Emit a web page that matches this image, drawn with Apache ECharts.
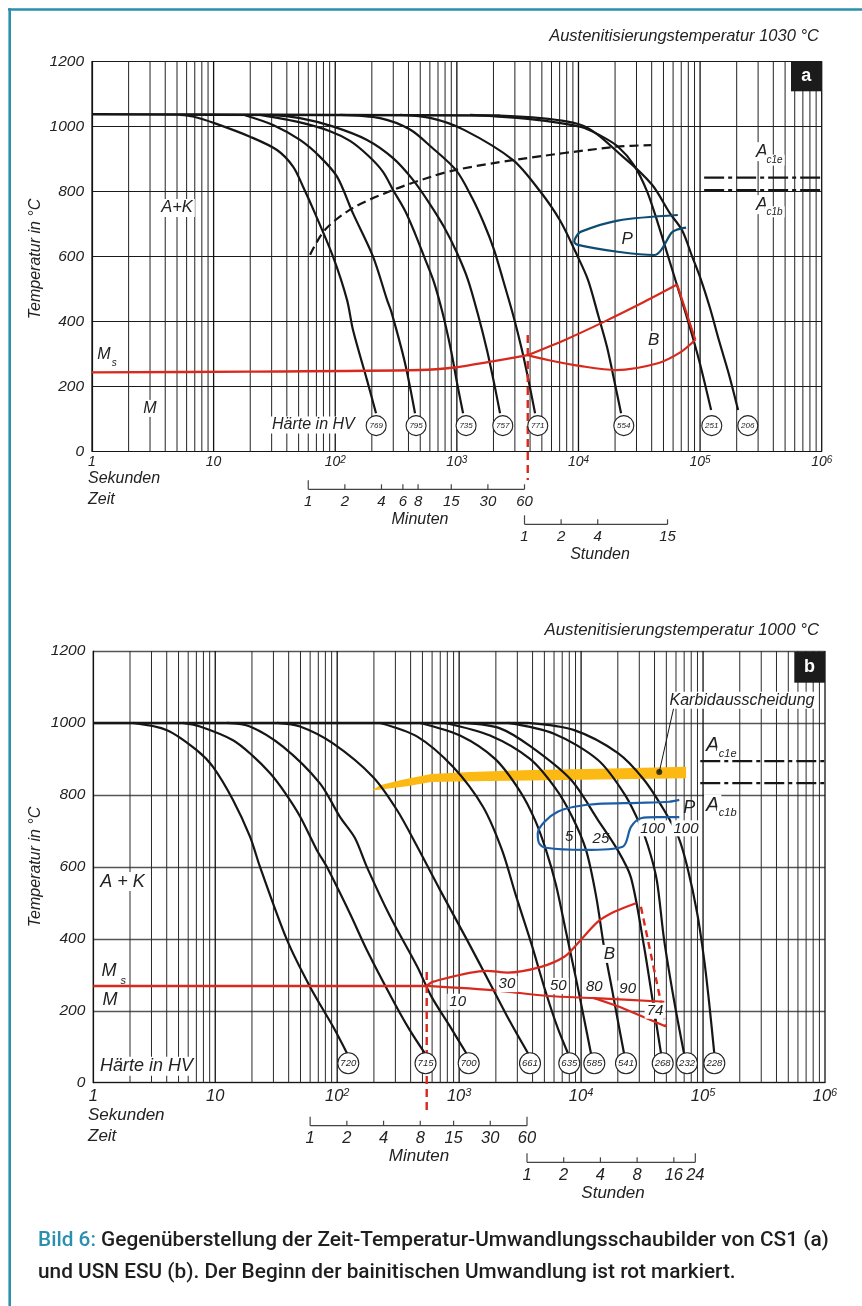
<!DOCTYPE html>
<html><head><meta charset="utf-8">
<script src="https://cdn.jsdelivr.net/npm/echarts/dist/echarts.min.js"></script>
<style>html,body{margin:0;padding:0;background:#fff}#c{width:862px;height:1306px}</style>
</head><body><div id="c"></div>
<script>
// ---------------- DATA (time in seconds, temperature in °C) ----------------
// Chart a: CS1, austenitised at 1030 °C
const topA = [[1,1037],[10,1036],[100,1035],[2266,1033]];
const a769 = [[5.29,1035],[6.77,1030],[10.27,1009],[19.93,968],[33.2,927],[45.0,876],[54.4,814],[68.2,732],[95.9,599],[125,466],[140,373],[182.6,219],[216.5,117]];
const a795 = [[18.1,1034],[30.8,1004],[51.3,958],[75.0,906],[103.5,845],[140,732],[204.6,599],[266.7,466],[291.5,425],[375,271],[453,117]];
const a735 = [[24.1,1035],[51.3,1012],[90.6,985],[132.3,955],[186.1,910],[247,860],[299,804],[375,740],[453,670],[537,600],[649,520],[770,420],[896,310],[1004,210],[1125,117]];
const a757 = [[29.1,1035],[51.3,1025],[96.5,999],[182.6,958],[299,902],[436,835],[602,760],[785,690],[1004,610],[1236,527],[1494,420],[1772,310],[2023,210],[2266,117]];
const a771 = [[109.5,1035],[233.5,1025],[412,990],[613.5,937],[985,865],[1334,780],[1674,700],[2023,620],[2399,527],[2899,420],[3438,310],[3925,210],[4397,117]];
const a554 = [[341,1035],[613.5,1025],[1146,989],[2899,896],[4834,800],[7058,710],[9557,610],[11990,527],[14490,420],[17190,320],[19630,220],[22400,117]];
const a251 = [[1284,1035],[4000,1022],[10500,998],[15050,972],[21170,937],[28660,880],[36650,800],[45140,700],[54560,600],[65940,500],[79660,400],[98110,280],[123200,127]];
const a206 = [[2266,1033],[10500,1004],[23270,906],[40300,820],[56360,733],[71120,680],[85940,600],[101900,527],[120800,440],[143300,340],[173200,235],[205400,127]];
const dashA = [[62.1,605],[82.5,682],[140,749],[299,804],[614,845],[985,866],[2884,896],[20370,937],[39500,942]];
const msA = [[1,243],[19.9,245],[498,250],[953,258],[1911,276],[3828,296]];
const bUpA = [[3828,296],[7655,342],[16340,399],[34830,460],[64700,513]];
const bRightA = [[64700,513],[91450,343]];
const bLowA = [[3828,296],[5594,281],[10500,262],[20370,250],[44900,271],[69800,306],[91450,343]];
const redVertA = [[3828,358],[3828,-88]];
const pA = [[65600,727],[21040,710],[10500,676],[9550,660],[9250,645],[9870,635],[21040,614],[42100,604],[47800,619],[57800,671],[63500,681],[76700,688]];
const ac1eA = [[108000,842],[1000000,842]];
const ac1bA = [[108000,804],[1000000,804]];
const hvA = [[217,769],[462,795],[1191,735],[2386,757],[4627,771],[23590,554],[124800,251],[246700,206]];
const minA = [1,2,4,6,8,15,30,60];
const hrA = [1,2,4,15];

// Chart b: USN ESU, austenitised at 1000 °C
const topB = [[1,1000],[3669,1000]];
const b720 = [[2.116,1000],[4.02,980],[7.085,924],[9.59,878],[13.98,786],[19.27,684],[23.28,600],[38.75,397],[59.8,267],[92.4,156],[120.3,82]];
const b715 = [[5.44,1000],[7.50,990],[13.98,952],[20.1,910],[28.2,860],[37.5,805],[49.6,740],[68.0,647],[82.2,600],[126.9,471],[174.9,369],[285.7,230],[393.9,146],[522.7,82]];
const b700 = [[12.49,1000],[19.27,990],[35.9,934],[72.2,832],[105.3,739],[139.8,680],[174.9,600],[272.6,461],[453.9,322],[591.4,240],[846.3,155],[1145,82]];
const b661 = [[32.1,1000],[49.6,990],[92.4,943],[196.6,850],[309.2,758],[453.9,656],[696.6,536],[1160,397],[1791,276],[2612,170],[3669,82]];
const b635 = [[224.4,1000],[453.9,962],[889.7,878],[1568,767],[2244,647],[2923,520],[3880,390],[5150,250],[6460,150],[7801,82]];
const b585 = [[478,1000],[1017,965],[1970,900],[3158,810],[4192,730],[5150,647],[6219,550],[7511,420],[9073,290],[10550,180],[12040,82]];
const b541 = [[765.7,1000],[1791,965],[3811,900],[6109,820],[8424,740],[10970,647],[13250,520],[15410,378],[17920,260],[20070,170],[22480,82]];
const b268 = [[1096,1000],[2163,985],[3880,934],[8264,842],[13760,730],[20070,645],[25650,570],[32780,380],[38140,240],[45200,82]];
const b232 = [[2516,1000],[5998,970],[13760,897],[22900,800],[30970,711],[36710,640],[41900,560],[47820,400],[57760,230],[69760,82]];
const b228 = [[3669,1000],[8776,980],[20070,916],[32780,842],[47820,758],[62600,684],[74210,600],[89640,470],[102300,340],[112400,220],[123600,82]];
const bandTopB = [[192.9,812],[224.4,827],[327.6,841],[588.5,858],[1228,864],[3815,869],[14300,873],[72550,878]];
const bandBotB = [[72550,846],[14300,843],[3815,840],[1228,838],[588.5,836],[373.7,824],[266.1,818],[192.9,812]];
const carbDotB = [[43750,864]];
const carbLeadB = [[43750,864],[58100,1049]];
const pB = [[63850,786],[52880,781],[29110,778],[13680,775],[8790,767],[6430,753],[4990,725],[4410,693],[4540,665],[5155,653],[10620,647],[21940,656],[25650,711],[30960,735],[42460,738],[63850,738]];
const msB = [[1,269],[542,269]];
const bUpB = [[542,269],[614,281],[1683,311],[2500,306],[4690,322],[7280,350],[9370,387],[13680,447],[18710,475],[28180,499]];
const bLowB = [[542,269],[2070,256],[5320,241],[12830,235],[48110,225]];
const bLow2B = [[12830,235],[20570,211],[49680,156]];
const redDashB = [[30960,489],[49680,156]];
const redVertB = [[542,308],[542,-90]];
const ac1eB = [[94900,894],[1000000,894]];
const ac1bB = [[94900,833],[1000000,833]];
const hvB = [[123.3,720],[530,715],[1197,700],[3810,661],[8000,635],[12830,585],[23340,541],[46680,268],[73880,232],[123700,228]];
const minB = [1,2,4,8,15,30,60];
const hrB = [1,2,4,8,16,24];

// ---------------- LAYOUT / STYLE ----------------
const FAM = '"Liberation Sans", Arial, Helvetica, sans-serif';
const fnt = (s, w) => (w || 'italic') + ' ' + s + 'px ' + FAM;
const INK = '#161616', TXT = '#222', RED = '#d8291c';
const HV_ROW = [79, 54];

const gridVals = [], gridMajor = [];
for (let k = 0; k < 6; k++) for (let m = 1; m <= 9; m++) { gridVals.push(m * Math.pow(10, k)); gridMajor.push(m === 1); }
gridVals.push(1e6); gridMajor.push(true);

function xFmt(v) { const e = Math.round(Math.log10(v)); return e === 0 ? '1' : e === 1 ? '10' : '10{s|' + e + '}'; }
function xAx(gi, fs, margin) {
  return { type: 'log', logBase: 10, gridIndex: gi, min: 1, max: 1e6,
    axisLine: { show: true, lineStyle: { color: INK, width: 1.2 } }, axisTick: { show: false }, splitLine: { show: false },
    axisLabel: { margin: margin, color: TXT, fontStyle: 'italic', fontSize: fs, fontFamily: FAM, formatter: xFmt,
      rich: { s: { fontSize: Math.round(fs * 0.68), fontStyle: 'italic', fontFamily: FAM, color: TXT, verticalAlign: 'top', lineHeight: fs * 0.7 } } } };
}
function yAx(gi, col, w) {
  return { type: 'value', gridIndex: gi, min: 0, max: 1200, interval: 200,
    axisLine: { show: true, lineStyle: { color: INK, width: 1.2 } }, axisTick: { show: false },
    splitLine: { show: true, lineStyle: { color: col, width: w } },
    axisLabel: { margin: 8, color: TXT, fontStyle: 'italic', fontSize: 15.5, fontFamily: FAM, formatter: v => String(v) } };
}
function gridSeries(gi, minorCol) {
  return { type: 'custom', xAxisIndex: gi, yAxisIndex: gi, silent: true, z: 1, clip: false,
    data: gridVals.map(v => [v, 0]),
    renderItem: (params, api) => {
      const v = api.value(0), a = api.coord([v, 0]), b = api.coord([v, 1200]), m = gridMajor[params.dataIndex];
      return { type: 'line', shape: { x1: a[0], y1: a[1], x2: b[0], y2: b[1] }, style: { stroke: m ? '#111' : minorCol, lineWidth: m ? 1.3 : 1 } };
    } };
}
function line(gi, data, opt) {
  return Object.assign({ type: 'line', xAxisIndex: gi, yAxisIndex: gi, data: data, symbol: 'none', smooth: 0.3, silent: true,
    lineStyle: { color: INK, width: 2.2 }, z: 5 }, opt || {});
}
function ann(gi, items) {
  return { type: 'custom', xAxisIndex: gi, yAxisIndex: gi, silent: true, z: 20, clip: false,
    data: items.map(d => [d[0], d[1]]),
    renderItem: (params, api) => {
      const d = items[params.dataIndex], p = api.coord([d[0], d[1]]);
      const st = { text: d[2], font: fnt(d[3]), fill: TXT, align: 'center', verticalAlign: 'middle' };
      if (d[4]) { st.backgroundColor = '#fff'; st.padding = [1, 2, 0, 2]; }
      return { type: 'text', x: p[0], y: p[1], style: st };
    } };
}
function scale(gi, vals, mult, o) {
  return { type: 'custom', xAxisIndex: gi, yAxisIndex: gi, silent: true, z: 10, clip: false,
    data: vals.map(v => [v * mult, 0]),
    renderItem: (params, api) => {
      const i = params.dataIndex, p = api.coord([vals[i] * mult, 0]), yb = p[1] + o.base;
      const tall = o.tall.indexOf(i) >= 0 || (o.tallLast && i === vals.length - 1);
      const ch = [
        { type: 'line', shape: { x1: p[0], y1: yb, x2: p[0], y2: yb - (tall ? 9 : 5) }, style: { stroke: '#444', lineWidth: 1.2 } },
        { type: 'text', x: p[0], y: p[1] + o.label, style: { text: String(vals[i]), font: fnt(o.fs), fill: TXT, align: 'center', verticalAlign: 'middle' } }
      ];
      if (i === 0) {
        const q = api.coord([vals[vals.length - 1] * mult, 0]);
        ch.push({ type: 'line', shape: { x1: p[0], y1: yb, x2: q[0], y2: yb }, style: { stroke: '#444', lineWidth: 1.2 } });
      }
      return { type: 'group', children: ch };
    } };
}
function circles(gi, hv, size, fs) {
  return { type: 'scatter', xAxisIndex: gi, yAxisIndex: gi, silent: true, z: 15,
    data: hv.map(h => [h[0], HV_ROW[gi], h[1]]), symbol: 'circle', symbolSize: size,
    itemStyle: { color: '#fff', borderColor: '#222', borderWidth: 1.1, opacity: 1 },
    label: { show: true, position: 'inside', formatter: p => String(p.data[2]), fontSize: fs, fontStyle: 'italic', fontFamily: FAM, color: TXT } };
}
function band(gi, top, bot, col) {
  return { type: 'custom', xAxisIndex: gi, yAxisIndex: gi, silent: true, z: 3, clip: false, data: [[top[0][0], top[0][1]]],
    renderItem: (params, api) => ({ type: 'polygon', shape: { points: top.concat(bot).map(p => api.coord(p)) }, style: { fill: col } }) };
}

const annA = [
  [5.0, 749, 'A+K', 16.5, true], [1.255, 297, 'M', 16, false], [1.525, 270, 's', 10, false],
  [3.0, 132, 'M', 16, true], [66.1, 81, 'Härte in HV', 16, true], [41600, 342, 'B', 17, true],
  [25100, 652, 'P', 17, false], [322300, 922, 'A', 17.5, true], [410000, 896, 'c1e', 10, true],
  [322300, 759, 'A', 17.5, true], [410000, 737, 'c1b', 10, true]
];
const annB = [
  [1.735, 559, 'A + K', 18, true], [1.345, 310, 'M', 18, false], [1.762, 283, 's', 11, false],
  [1.371, 230, 'M', 18, true], [2.73, 46, 'Härte in HV', 18, true], [208600, 1063, 'Karbidausscheidung', 16, true],
  [120000, 938, 'A', 20, true], [159300, 915, 'c1e', 11, true], [120000, 772, 'A', 20, true], [159300, 749, 'c1b', 11, true],
  [77100, 763, 'P', 18, false], [8000, 684, '5', 15, false], [14550, 679, '25', 15, false],
  [38650, 707, '100', 15, true], [72440, 707, '100', 15, true], [972, 225, '10', 15, true], [2466, 274, '30', 15, true],
  [6503, 269, '50', 15, true], [12830, 267, '80', 15, true], [24100, 262, '90', 15, true], [40360, 200, '74', 15, true],
  [17030, 358, 'B', 17, true]
];

const BLUE_A = '#0f4c74', BLUE_B = '#1c5ea6';
const series = [
  gridSeries(0, '#222'), gridSeries(1, '#2a2a2a'),
  line(0, topA, { smooth: false, lineStyle: { color: INK, width: 2.6 } }),
  line(0, a769), line(0, a795), line(0, a735), line(0, a757), line(0, a771), line(0, a554), line(0, a251), line(0, a206),
  line(0, dashA, { lineStyle: { color: INK, width: 2.2, type: [9, 5] } }),
  line(0, msA, { lineStyle: { color: RED, width: 2.4 }, z: 6 }),
  line(0, bUpA, { lineStyle: { color: RED, width: 2.2 }, z: 6 }),
  line(0, bRightA, { smooth: false, lineStyle: { color: RED, width: 2.2 }, z: 6 }),
  line(0, bLowA, { lineStyle: { color: RED, width: 2.2 }, z: 6 }),
  line(0, redVertA, { smooth: false, clip: false, lineStyle: { color: RED, width: 2.4, type: [8, 5] }, z: 6 }),
  line(0, pA, { lineStyle: { color: BLUE_A, width: 2.2 }, z: 6 }),
  line(0, ac1eA, { smooth: false, lineStyle: { color: INK, width: 2.2, type: [20, 4, 4, 4] } }),
  line(0, ac1bA, { smooth: false, lineStyle: { color: INK, width: 2.2, type: [20, 4, 4, 4] } }),
  band(1, bandTopB, bandBotB, '#fdb913'),
  line(1, topB, { smooth: false, lineStyle: { color: INK, width: 2.4 } }),
  line(1, b720), line(1, b715), line(1, b700), line(1, b661), line(1, b635), line(1, b585), line(1, b541), line(1, b268), line(1, b232), line(1, b228),
  line(1, msB, { smooth: false, lineStyle: { color: RED, width: 2.4 }, z: 6 }),
  line(1, bUpB, { lineStyle: { color: RED, width: 2.2 }, z: 6 }),
  line(1, bLowB, { lineStyle: { color: RED, width: 2.2 }, z: 6 }),
  line(1, bLow2B, { smooth: false, lineStyle: { color: RED, width: 2.2 }, z: 6 }),
  line(1, redDashB, { smooth: false, lineStyle: { color: RED, width: 2.4, type: [7, 5] }, z: 6 }),
  line(1, redVertB, { smooth: false, clip: false, lineStyle: { color: RED, width: 2.4, type: [8, 5] }, z: 6 }),
  line(1, pB, { lineStyle: { color: BLUE_B, width: 2.2 }, z: 6 }),
  line(1, ac1eB, { smooth: false, lineStyle: { color: INK, width: 2.2, type: [20, 4, 4, 4] } }),
  line(1, ac1bB, { smooth: false, lineStyle: { color: INK, width: 2.2, type: [20, 4, 4, 4] } }),
  line(1, carbLeadB, { smooth: false, lineStyle: { color: INK, width: 1 }, z: 7 }),
  { type: 'scatter', xAxisIndex: 1, yAxisIndex: 1, data: carbDotB, symbolSize: 6, itemStyle: { color: '#111' }, silent: true, z: 8 },
  circles(0, hvA, 20, 8), circles(1, hvB, 21, 9.5),
  ann(0, annA), ann(1, annB),
  scale(0, minA, 60, { base: 38, label: 50.4, fs: 15, tall: [0] }),
  scale(0, hrA, 3600, { base: 73, label: 85.4, fs: 15, tall: [0] }),
  scale(1, minB, 60, { base: 43, label: 55.6, fs: 16.5, tall: [0], tallLast: true }),
  scale(1, hrB, 3600, { base: 79.6, label: 92.3, fs: 16.5, tall: [0], tallLast: true })
];

const ctext = (x, y, text, size, align) => ({ type: 'text', x: x, y: y, silent: true,
  style: { text: text, font: fnt(size), fill: TXT, align: align || 'center', verticalAlign: 'middle' } });
const CAP = '500 20.8px Roboto, "Noto Sans", sans-serif';
const graphic = [
  { type: 'line', silent: true, shape: { x1: 8, y1: 9.5, x2: 862, y2: 9.5 }, style: { stroke: '#2a91ad', lineWidth: 2.6 } },
  { type: 'line', silent: true, shape: { x1: 9.7, y1: 8.2, x2: 9.7, y2: 1306 }, style: { stroke: '#2a91ad', lineWidth: 2.6 } },
  ctext(819, 36, 'Austenitisierungstemperatur 1030 °C', 16.5, 'right'),
  ctext(819, 630, 'Austenitisierungstemperatur 1000 °C', 16.8, 'right'),
  { type: 'rect', silent: true, shape: { x: 791, y: 61.3, width: 30.7, height: 30 }, style: { fill: '#1b1b1b' }, z: 100 },
  { type: 'text', silent: true, x: 806.3, y: 76.5, z: 101, style: { text: 'a', font: fnt(18, 'bold'), fill: '#fff', align: 'center', verticalAlign: 'middle' } },
  { type: 'rect', silent: true, shape: { x: 794.3, y: 651.7, width: 30.7, height: 31 }, style: { fill: '#1b1b1b' }, z: 100 },
  { type: 'text', silent: true, x: 809.6, y: 667.2, z: 101, style: { text: 'b', font: fnt(18, 'bold'), fill: '#fff', align: 'center', verticalAlign: 'middle' } },
  { type: 'text', silent: true, x: 36, y: 259, rotation: Math.PI / 2, style: { text: 'Temperatur in °C', font: fnt(16), fill: TXT, align: 'center', verticalAlign: 'middle' } },
  { type: 'text', silent: true, x: 36, y: 867, rotation: Math.PI / 2, style: { text: 'Temperatur in °C', font: fnt(16), fill: TXT, align: 'center', verticalAlign: 'middle' } },
  ctext(88, 479, 'Sekunden', 16, 'left'), ctext(88, 500, 'Zeit', 16, 'left'),
  ctext(88, 1115, 'Sekunden', 17, 'left'), ctext(88, 1136, 'Zeit', 17, 'left'),
  ctext(420, 520, 'Minuten', 16), ctext(600, 555, 'Stunden', 16),
  ctext(419, 1156, 'Minuten', 17), ctext(613, 1193, 'Stunden', 17),
  { type: 'text', silent: true, x: 38, y: 1241, style: { text: '{b|Bild 6:} Gegenüberstellung der Zeit-Temperatur-Umwandlungsschaubilder von CS1 (a)', font: CAP, fill: '#1e1e1e', align: 'left', verticalAlign: 'middle',
    rich: { b: { fill: '#2b8fb0', font: CAP } } } },
  { type: 'text', silent: true, x: 38, y: 1273, style: { text: 'und USN ESU (b). Der Beginn der bainitischen Umwandlung ist rot markiert.', font: CAP, fill: '#1e1e1e', align: 'left', verticalAlign: 'middle' } }
];

const chart = echarts.init(document.getElementById('c'), null, { renderer: 'canvas' });
chart.setOption({
  animation: false, backgroundColor: '#fff',
  grid: [{ left: 92, top: 61.3, width: 729.7, height: 390 }, { left: 93.3, top: 651, width: 731.7, height: 431.7 }],
  xAxis: [xAx(0, 14, 4), xAx(1, 16.5, 5)],
  yAxis: [yAx(0, '#1a1a1a', 1), yAx(1, '#555', 1.4)],
  series: series,
  graphic: graphic
});
</script></body></html>
